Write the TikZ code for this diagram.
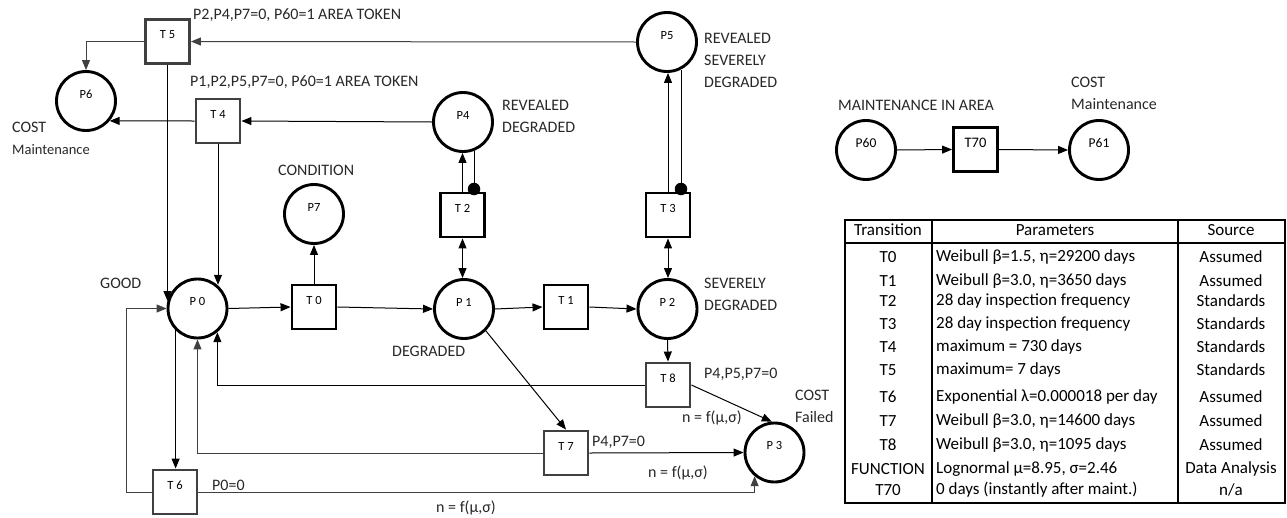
\documentclass[tikz,border=0pt]{standalone}
\usepackage{fontspec}
\setmainfont{Carlito}
\usetikzlibrary{arrows.meta,calc}
\definecolor{dk}{RGB}{64,64,64}
\definecolor{tx}{RGB}{40,40,40}
\begin{document}
\begin{tikzpicture}[x=1pt,y=-1pt,
  place/.style={circle,draw=black,line width=2.9pt,minimum size=59pt,inner sep=0pt,text depth=14pt,font=\fontsize{12.5}{14}\selectfont},
  trans/.style={rectangle,draw=black,line width=2.9pt,minimum size=44pt,inner sep=0pt,text depth=14pt,font=\fontsize{12.5}{14}\selectfont},
  gtrans/.style={trans,draw=dk},
  inhdot/.style={circle,fill=black,minimum size=12.5pt,inner sep=0pt},
  arr/.style={-{Triangle[length=10pt,width=8pt]},line width=1pt},
  darr/.style={{Triangle[length=10pt,width=8pt]}-{Triangle[length=10pt,width=8pt]},line width=1pt},
  ln/.style={line width=1pt},
  lbl/.style={anchor=west,inner sep=0pt,text=tx,align=left,font=\fontsize{16}{22}\selectfont},
  slbl/.style={lbl,font=\fontsize{14.5}{20}\selectfont},
  tcell/.style={inner sep=0pt,font=\fontsize{17}{20}\selectfont},
  tparam/.style={tcell,anchor=west}
]
\useasboundingbox (0,0) rectangle (1287,517);

% places
\node[place] (P0) at (197.5,308.5) {P 0};
\node[place] (P1) at (464,309) {P 1};
\node[place] (P2) at (667.5,309) {P 2};
\node[place] (P3) at (774.5,452.5) {P 3};
\node[place] (P4) at (463,122) {P4};
\node[place] (P5) at (667,42) {P5};
\node[place] (P6) at (86,101) {P6};
\node[place] (P7) at (314,214) {P7};
\node[place,font=\fontsize{13.5}{15}\selectfont] (P60) at (866,150) {P60};
\node[place,font=\fontsize{13.5}{15}\selectfont] (P61) at (1099,150) {P61};

% transitions
\node[trans] (T0) at (314,307) {T 0};
\node[trans] (T1) at (566,307) {T 1};
\node[trans] (T2) at (462.5,215) {T 2};
\node[trans] (T3) at (668,215) {T 3};
\node[gtrans] (T4) at (218,121) {T 4};
\node[gtrans] (T5) at (167.5,41.5) {T 5};
\node[gtrans] (T6) at (175,492) {T 6};
\node[gtrans] (T7) at (566,453) {T 7};
\node[gtrans] (T8) at (668,385) {T 8};
\node[trans,font=\fontsize{14.5}{16}\selectfont] (T70) at (975.5,149.5) {T70};

% inhibitor dots
\node[inhdot] (d2) at (474,189) {};
\node[inhdot] (d3) at (681,189) {};
\coordinate (c6) at (126,492);

% connectors
\draw[arr,draw=dk] (P5.west) -- (T5.east);
\draw[arr,draw=dk] (T5.west) -| (P6.north);
\draw[arr] (P4.west) -- (T4.east);
\draw[arr] (T4.west) -- (P6.-40);
\draw[arr] (T5.south) -- (T5.south |- P0.166);
\draw[arr] (T4.south) -- (T4.south |- P0.50);
\draw[arr] (P0.east) -- (T0.west);
\draw[arr] (T0.north) -- (P7.south);
\draw[arr] (T0.east) -- (P1.west);
\draw[arr] (P1.east) -- (T1.west);
\draw[arr] (T1.east) -- (P2.west);
\draw[darr] (T2.south) -- (T2.south |- P1.north);
\draw[darr] (T3.south) -- (T3.south |- P2.north);
\draw[arr] (T2.north) -- (T2.north |- P4.south);
\draw[arr] (T3.north) -- (T3.north |- P5.south);
\draw[ln] (d2 |- P4.-70) -- (d2);
\draw[ln] (d3 |- P5.-66) -- (d3);
\draw[arr] (P2.south) -- (T8.north);
\draw[arr] (T8.west) -| (P0.-50);
\draw[arr,draw=dk] (T7.west) -| (P0.south);
\draw[arr] (P0.-135) -- (P0.-135 |- T6.north);
\draw[arr,draw=dk] (T6.west) -- (c6) |- (P0.west);
\draw[arr,draw=dk] (T6.east) -| (P3.-130);
\draw[arr] (P1.-45) -- (T7.north);
\draw[arr] (T7.east) -- (P3.west);
\draw[arr] (T8.east) -- (P3.95);
\draw[arr] (P60.east) -- (T70.west);
\draw[arr] (T70.east) -- (P61.west);

% labels
\node[lbl] (l1) at (193,15) {P2,P4,P7=0, P60=1 AREA TOKEN};
\node[lbl] (l2) at (190,82) {P1,P2,P5,P7=0, P60=1 AREA TOKEN};
\node[lbl] (l3) at (12,127) {COST};
\node[slbl] (l4) at (12,150) {Maintenance};
\node[lbl] (l5) at (278,170) {CONDITION};
\node[lbl] (l6) at (502,116) {REVEALED\\DEGRADED};
\node[lbl] (l7) at (704,60) {REVEALED\\SEVERELY\\DEGRADED};
\node[lbl] (l8) at (100,283) {GOOD};
\node[lbl] (l9) at (392,351) {DEGRADED};
\node[lbl] (l10) at (704,294.5) {SEVERELY\\DEGRADED};
\node[lbl] (l11) at (704,374) {P4,P5,P7=0};
\node[lbl] (l12) at (682,418) {n = f(μ,σ)};
\node[lbl] (l13) at (795,406.5) {COST\\Failed};
\node[lbl] (l14) at (592,442) {P4,P7=0};
\node[lbl] (l15) at (648,473) {n = f(μ,σ)};
\node[lbl] (l16) at (212,485) {P0=0};
\node[lbl] (l17) at (436,508) {n = f(μ,σ)};
\node[lbl] (l18) at (838,105) {MAINTENANCE IN AREA};
\node[lbl] (l19) at (1071,93.5) {COST\\Maintenance};

% table
\draw[line width=1.3pt] (845,220) rectangle (1285,503);
\draw[line width=1.1pt] (845,243) -- (1285,243);
\draw[line width=1.1pt] (932,220) -- (932,503);
\draw[line width=1.1pt] (1178,220) -- (1178,503);
\node[tcell] (h1) at (888,230) {Transition};
\node[tcell] (h2) at (1055,230) {Parameters};
\node[tcell] (h3) at (1231,230) {Source};
\foreach \y/\t/\p/\s in {
 257/T0/{Weibull β=1.5, η=29200 days}/Assumed,
 281/T1/{Weibull β=3.0, η=3650 days}/Assumed,
 301/T2/{28 day inspection frequency}/Standards,
 324/T3/{28 day inspection frequency}/Standards,
 347/T4/{maximum = 730 days}/Standards,
 370/T5/{maximum= 7 days}/Standards,
 397/T6/{Exponential λ=0.000018 per day}/Assumed,
 421/T7/{Weibull β=3.0, η=14600 days}/Assumed,
 445/T8/{Weibull β=3.0, η=1095 days}/Assumed,
 469/FUNCTION/{Lognormal μ=8.95, σ=2.46}/Data Analysis,
 490/T70/{0 days (instantly after maint.)}/n\slash a}{
  \node[tcell] (tr\y) at (888,\y) {\t};
  \node[tparam] (pa\y) at (936,\y) {\p};
  \node[tcell] (so\y) at (1231,\y) {\s};
}
\end{tikzpicture}
\end{document}
